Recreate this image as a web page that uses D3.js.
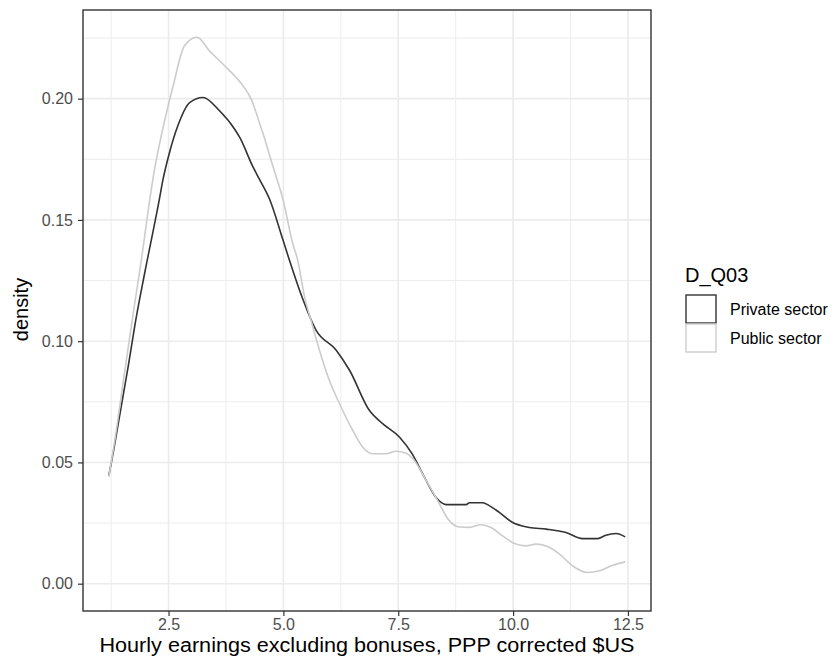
<!DOCTYPE html>
<html>
<head>
<meta charset="utf-8">
<script src="https://cdn.jsdelivr.net/npm/d3@7"></script>
<style>
  body { margin: 0; background: #fff; }
  svg { display: block; }
  text { font-family: "Liberation Sans", Arial, Helvetica, sans-serif; }
</style>
</head>
<body>
<script>
// ---- Data ----
const seriesNames = ["Private sector", "Public sector"];
const seriesColors = ["#333333", "#CCCCCC"];

const privateX = [1.20, 1.25, 1.43, 1.62, 1.80, 1.98, 2.30, 2.38, 2.52, 2.70, 2.96, 3.25, 3.61, 3.94, 4.05, 4.33, 4.48, 4.70, 4.99, 5.13, 5.42, 5.71, 6.15, 6.44, 6.87, 7.16, 7.53, 7.80, 8.07, 8.32, 8.54, 8.98, 9.05, 9.34, 9.48, 9.70, 9.99, 10.35, 10.72, 11.15, 11.51, 11.84, 12.02, 12.24, 12.44];
const privateY = [0.0446, 0.0494, 0.0687, 0.0894, 0.1101, 0.1280, 0.1585, 0.1667, 0.1777, 0.1887, 0.1984, 0.2005, 0.1950, 0.1874, 0.1840, 0.1722, 0.1667, 0.1585, 0.1418, 0.1335, 0.1175, 0.1046, 0.0963, 0.0880, 0.0715, 0.0660, 0.0604, 0.0536, 0.0439, 0.0356, 0.0326, 0.0326, 0.0334, 0.0334, 0.0322, 0.0294, 0.0252, 0.0232, 0.0225, 0.0211, 0.0186, 0.0186, 0.0200, 0.0207, 0.0193];

const publicX = [1.20, 1.33, 1.54, 1.72, 1.94, 2.05, 2.195, 2.34, 2.49, 2.59, 2.85, 3.12, 3.40, 3.72, 4.12, 4.30, 4.48, 4.55, 4.77, 4.99, 5.20, 5.31, 5.46, 5.60, 5.785, 6.00, 6.22, 6.51, 6.73, 6.95, 7.24, 7.45, 7.67, 7.82, 8.11, 8.36, 8.61, 8.80, 9.05, 9.30, 9.52, 9.77, 10.03, 10.28, 10.50, 10.75, 11.01, 11.30, 11.62, 11.88, 12.17, 12.44];
const publicY = [0.0440, 0.0591, 0.0867, 0.1100, 0.1377, 0.1529, 0.1708, 0.1846, 0.1970, 0.2045, 0.2219, 0.2253, 0.2195, 0.2136, 0.2053, 0.1998, 0.1900, 0.1860, 0.1722, 0.1585, 0.1405, 0.1335, 0.1184, 0.1087, 0.0963, 0.0839, 0.0743, 0.0632, 0.0563, 0.0536, 0.0536, 0.0546, 0.0538, 0.0515, 0.0425, 0.0342, 0.0260, 0.0235, 0.0232, 0.0243, 0.0232, 0.0197, 0.0166, 0.0156, 0.0163, 0.0153, 0.0122, 0.0073, 0.0046, 0.0053, 0.0076, 0.0090];

const xTicks = [2.5, 5.0, 7.5, 10.0, 12.5];
const xMinor = [1.25, 3.75, 6.25, 8.75, 11.25];
const yTicks = [0.00, 0.05, 0.10, 0.15, 0.20];
const yMinor = [0.025, 0.075, 0.125, 0.175, 0.225];

const legendTitle = "D_Q03";
const xTitle = "Hourly earnings excluding bonuses, PPP corrected $US";
const yTitle = "density";

// ---- Layout ----
const W = 839, H = 657;
const panel = { left: 83, top: 10, right: 651, bottom: 611 };

const svg = d3.select("body").append("svg").attr("width", W).attr("height", H);

// data extents + ggplot-like 5% expansion
const allX = privateX.concat(publicX);
const allY = privateY.concat(publicY).concat([0]);
const xr = d3.extent(allX), yr = d3.extent(allY);
const xpad = (xr[1] - xr[0]) * 0.05, ypad = (yr[1] - yr[0]) * 0.05;

const x = d3.scaleLinear().domain([xr[0] - xpad, xr[1] + xpad]).range([panel.left, panel.right]);
const y = d3.scaleLinear().domain([yr[0] - ypad, yr[1] + ypad]).range([panel.bottom, panel.top]);

// grid
const grid = svg.append("g");
grid.selectAll(".xminor").data(xMinor).enter().append("line")
  .attr("x1", d => x(d)).attr("x2", d => x(d))
  .attr("y1", panel.top).attr("y2", panel.bottom)
  .attr("stroke", "#EBEBEB").attr("stroke-width", 0.9);
grid.selectAll(".yminor").data(yMinor).enter().append("line")
  .attr("y1", d => y(d)).attr("y2", d => y(d))
  .attr("x1", panel.left).attr("x2", panel.right)
  .attr("stroke", "#EBEBEB").attr("stroke-width", 0.9);
grid.selectAll(".xmajor").data(xTicks).enter().append("line")
  .attr("x1", d => x(d)).attr("x2", d => x(d))
  .attr("y1", panel.top).attr("y2", panel.bottom)
  .attr("stroke", "#EBEBEB").attr("stroke-width", 1.6);
grid.selectAll(".ymajor").data(yTicks).enter().append("line")
  .attr("y1", d => y(d)).attr("y2", d => y(d))
  .attr("x1", panel.left).attr("x2", panel.right)
  .attr("stroke", "#EBEBEB").attr("stroke-width", 1.6);

// lines
const series = [
  { name: seriesNames[0], color: seriesColors[0], pts: privateX.map((v, i) => [v, privateY[i]]) },
  { name: seriesNames[1], color: seriesColors[1], pts: publicX.map((v, i) => [v, publicY[i]]) }
];
const line = d3.line().x(d => x(d[0])).y(d => y(d[1])).curve(d3.curveMonotoneX);
svg.append("g").selectAll("path").data(series).enter().append("path")
  .attr("d", d => line(d.pts))
  .attr("fill", "none")
  .attr("stroke", d => d.color)
  .attr("stroke-width", 1.6);

// panel border
svg.append("rect")
  .attr("x", panel.left).attr("y", panel.top)
  .attr("width", panel.right - panel.left).attr("height", panel.bottom - panel.top)
  .attr("fill", "none").attr("stroke", "#333333").attr("stroke-width", 1.4);

// axes
const xAxis = d3.axisBottom(x).tickValues(xTicks).tickFormat(d3.format(".1f")).tickSize(5).tickPadding(3);
const gx = svg.append("g").attr("transform", `translate(0,${panel.bottom})`).call(xAxis);
gx.select(".domain").remove();
gx.selectAll(".tick line").attr("stroke", "#333333").attr("stroke-width", 1.2);
gx.selectAll(".tick text").attr("fill", "#4D4D4D").style("font-size", "16px");

const yAxis = d3.axisLeft(y).tickValues(yTicks).tickFormat(d3.format(".2f")).tickSize(5).tickPadding(5);
const gy = svg.append("g").attr("transform", `translate(${panel.left},0)`).call(yAxis);
gy.select(".domain").remove();
gy.selectAll(".tick line").attr("stroke", "#333333").attr("stroke-width", 1.2);
gy.selectAll(".tick text").attr("fill", "#4D4D4D").style("font-size", "16px");

// axis titles
svg.append("text")
  .attr("x", (panel.left + panel.right) / 2).attr("y", 652)
  .attr("text-anchor", "middle")
  .attr("textLength", 535).attr("lengthAdjust", "spacingAndGlyphs")
  .style("font-size", "20px").attr("fill", "#000")
  .text(xTitle);

svg.append("text")
  .attr("transform", `translate(28,${(panel.top + panel.bottom) / 2 - 1}) rotate(-90)`)
  .attr("text-anchor", "middle")
  .style("font-size", "20px").attr("fill", "#000")
  .text(yTitle);

// legend
const lg = svg.append("g");
lg.append("text").attr("x", 685).attr("y", 282)
  .style("font-size", "20px").attr("fill", "#000").text(legendTitle);
series.forEach((s, i) => {
  const ky = 295 + i * 29;
  lg.append("rect").attr("x", 686).attr("y", ky).attr("width", 30).attr("height", 28)
    .attr("fill", "#fff").attr("stroke", s.color).attr("stroke-width", 1.4);
  lg.append("text").attr("x", 730).attr("y", ky + 20)
    .style("font-size", "16px").attr("fill", "#000").text(s.name);
});
</script>
</body>
</html>
